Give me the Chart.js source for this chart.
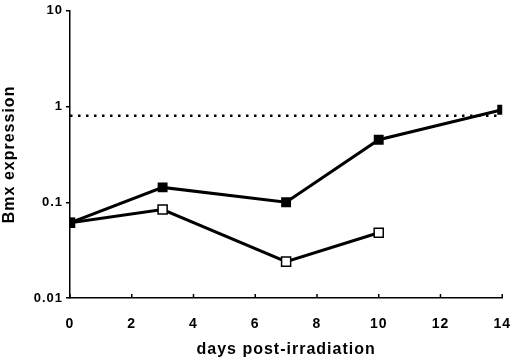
<!DOCTYPE html>
<html>
<head>
<meta charset="utf-8">
<script src="https://cdn.jsdelivr.net/npm/chart.js@4"></script>
<style>
  html, body { margin: 0; padding: 0; background: #fff; }
  #wrap { width: 520px; height: 362px; }
</style>
</head>
<body>
<div id="wrap"><canvas id="bmxChart"></canvas></div>
<script>
const days = [0, 3, 7, 10, 14];
const filledValues = [0.061, 0.143, 0.1, 0.45, 0.925];
const openDays = [0, 3, 7, 10];
const openValues = [0.061, 0.084, 0.024, 0.048];
const refDays = [0, 14];
const refValues = [0.8, 0.8];
const yTicks = [0.01, 0.1, 1, 10];
const yTickLabels = ['0.01', '0.1', '1', '10'];

const toPoints = (xs, ys) => xs.map((x, i) => ({ x: x, y: ys[i] }));

const ctxBmx = document.getElementById('bmxChart');

const letterSpace = {
    id: 'letterSpace',
    beforeDraw(chart) {
        chart.ctx.letterSpacing = '1px';
    }
};

// x tick marks point up into the plot, like the original
const innerTicks = {
    id: 'innerTicks',
    afterDraw(chart) {
        const x = chart.scales.x;
        const c = chart.ctx;
        c.save();
        c.strokeStyle = '#000';
        c.lineWidth = 1.5;
        x.ticks.forEach(t => {
            const px = x.getPixelForValue(t.value);
            c.beginPath();
            c.moveTo(px, x.top);
            c.lineTo(px, x.top - 4);
            c.stroke();
        });
        c.restore();
    }
};

const dataBmx = {
    datasets: [{
        label: 'filled',
        data: toPoints(days, filledValues),
        borderColor: '#000',
        backgroundColor: '#000',
        borderWidth: 3,
        pointStyle: 'rect',
        pointRadius: 7,
        pointBorderWidth: 0,
        order: 1
    }, {
        label: 'open',
        data: toPoints(openDays, openValues),
        borderColor: '#000',
        backgroundColor: '#fff',
        borderWidth: 3,
        pointStyle: 'rect',
        pointRadius: 6.4,
        pointBorderWidth: 1.5,
        order: 2
    }, {
        label: 'reference',
        data: toPoints(refDays, refValues),
        borderColor: '#000',
        borderWidth: 2.5,
        borderDash: [2.5, 5.5],
        pointRadius: 0,
        order: 3
    }]
};

const configBmx = {
    type: 'line',
    data: dataBmx,
    plugins: [letterSpace, innerTicks],
    options: {
        responsive: true,
        maintainAspectRatio: false,
        animation: false,
        layout: {
            padding: { top: 6, right: 16, left: 0, bottom: 0 }
        },
        plugins: {
            legend: { display: false },
            tooltip: { enabled: false }
        },
        scales: {
            x: {
                type: 'linear',
                min: 0,
                max: 14,
                afterFit: (s) => { s.height = 64; },
                border: { display: true, color: '#000', width: 1.5 },
                grid: { display: false },
                ticks: {
                    stepSize: 2,
                    color: '#000',
                    padding: 10,
                    maxRotation: 0,
                    font: { family: 'Liberation Sans', size: 14, weight: 'bold' }
                },
                title: {
                    display: true,
                    text: 'days post-irradiation',
                    color: '#000',
                    padding: { top: 0, bottom: 3 },
                    font: { family: 'Liberation Sans', size: 16, weight: 'bold' }
                }
            },
            y: {
                type: 'logarithmic',
                min: 0.01,
                max: 10,
                afterFit: (s) => { s.width = 70; },
                afterBuildTicks: (s) => { s.ticks = yTicks.map(v => ({ value: v })); },
                border: { display: true, color: '#000', width: 1.5 },
                grid: {
                    drawOnChartArea: false,
                    color: '#000',
                    lineWidth: 1.5,
                    tickLength: 4
                },
                ticks: {
                    color: '#000',
                    padding: 3,
                    callback: (v) => yTickLabels[yTicks.indexOf(v)],
                    font: { family: 'Liberation Sans', size: 13, weight: 'bold' }
                },
                title: {
                    display: true,
                    text: 'Bmx expression',
                    color: '#000',
                    padding: 0,
                    font: { family: 'Liberation Sans', size: 16, weight: 'bold' }
                }
            }
        }
    }
};

const lineChartBmx = new Chart(ctxBmx, configBmx);
</script>
</body>
</html>
